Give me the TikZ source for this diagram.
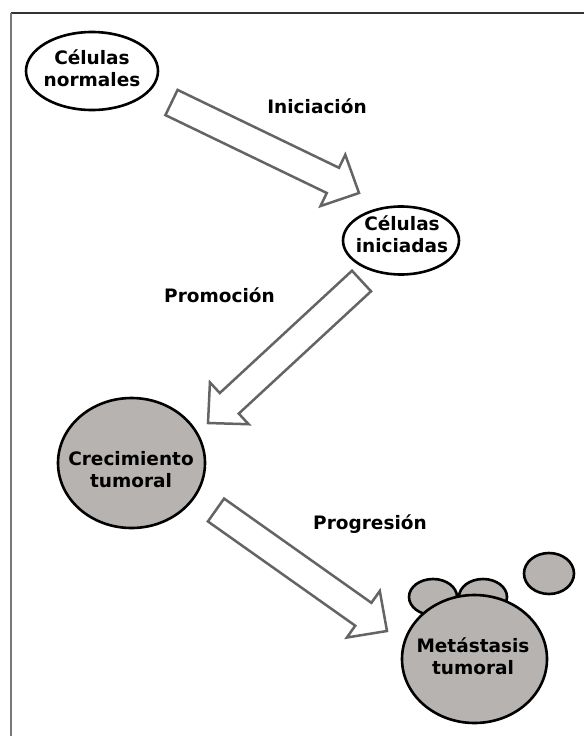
\documentclass[tikz,border=0pt]{standalone}
\usepackage{fontspec}
\setmainfont{DejaVu Sans}
\usetikzlibrary{calc,shapes.geometric}
\definecolor{tumorfill}{RGB}{182,179,176}
\definecolor{arrowgray}{RGB}{100,100,100}
\definecolor{framegray}{RGB}{120,120,120}
% block arrow from tail coordinate #1 to tip coordinate #2
\newcommand\blockarr[2]{%
  \coordinate (hb) at ($(#2)!29pt!(#1)$);
  \draw[barrow] ($(#1)!14pt!90:(#2)$) -- ($(hb)!14pt!-90:(#1)$) -- ($(hb)!28.5pt!-90:(#1)$)
    -- (#2) -- ($(hb)!28.5pt!90:(#1)$) -- ($(hb)!14pt!90:(#1)$) -- ($(#1)!14pt!-90:(#2)$) -- cycle;
}
\begin{document}
\begin{tikzpicture}[x=1pt,y=-1pt,
  lbl/.style={font=\fontsize{18.5}{22}\selectfont\bfseries, align=center, inner sep=0pt},
  cellnode/.style={ellipse, draw=black, line width=2.6pt, fill=white, inner sep=0pt},
  tumornode/.style={ellipse, draw=black, line width=2.6pt, fill=tumorfill, inner sep=0pt},
  barrow/.style={draw=arrowgray, line width=2.5pt, fill=white, line join=miter},
  framestyle/.style={line width=2pt}]
\useasboundingbox (0,0) rectangle (584,736);
\fill[white] (0,0) rectangle (584,736);
% frame (top and left edges)
\coordinate (fTL) at (11,13);
\coordinate (fTR) at (584,13);
\coordinate (fBL) at (11,736);
\draw[framestyle, draw=black!80] (fTL) -- (fTR);
\draw[framestyle, draw=framegray] (fTL) -- (fBL);

% cells (shapes)
\node[cellnode, minimum width=132, minimum height=78] (normal) at (92,71) {};
\node[cellnode, minimum width=116, minimum height=68] (iniciadas) at (401,240.5) {};
\node[tumornode, minimum width=147, minimum height=130] (crec) at (131.5,463) {};
\node[tumornode, minimum width=48, minimum height=36] (m1) at (433,597) {};
\node[tumornode, minimum width=48, minimum height=36] (m2) at (483,597) {};
\node[tumornode, minimum width=50, minimum height=41] (m3) at (549,573.5) {};
\node[tumornode, minimum width=145, minimum height=128] (meta) at (474.5,659) {};

% cell texts
\node[lbl] (normalT) at (92,68.5) {Células\\normales};
\node[lbl] (iniciadasT) at (402,234) {Células\\iniciadas};
\node[lbl] (crecT) at (131,470) {Crecimiento\\tumoral};
\node[lbl] (metaT) at (473,656) {Metástasis\\tumoral};

% labels
\node[lbl, anchor=base] (ini) at (317,113) {Iniciación};
\node[lbl, anchor=base] (pro) at (219.5,302) {Promoción};
\node[lbl, anchor=base] (prog) at (370,529) {Progresión};

% block arrows
\coordinate (a1t) at (171.5,102.5);
\coordinate (a1p) at (359,193);
\coordinate (a2t) at (361.5,281);
\coordinate (a2p) at (208,423);
\coordinate (a3t) at (216,510);
\coordinate (a3p) at (387,631);
\blockarr{a1t}{a1p}
\blockarr{a2t}{a2p}
\blockarr{a3t}{a3p}
\end{tikzpicture}
\end{document}
